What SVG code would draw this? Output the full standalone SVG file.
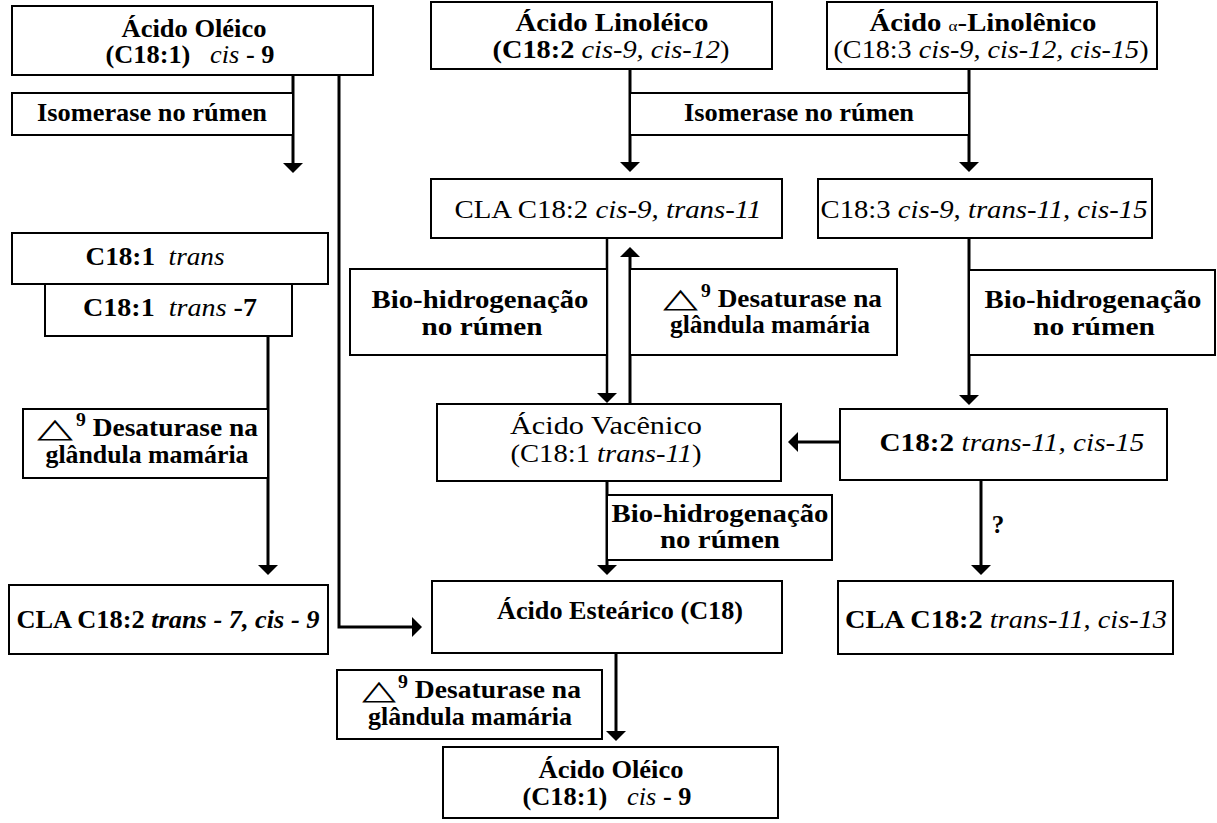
<svg xmlns="http://www.w3.org/2000/svg" width="1217" height="823" viewBox="0 0 1217 823">
<style>
.box{fill:#fff;stroke:#000;stroke-width:2}
.t{font-family:"Liberation Serif","Times New Roman",serif;font-size:25px;font-weight:bold;fill:#000;text-anchor:middle}
.s{text-anchor:start}
.n{font-weight:normal}
.i{font-style:italic;font-weight:normal}
.ib{font-style:italic;font-weight:bold}
.tri{font-family:"DejaVu Sans",sans-serif;font-size:27px;font-weight:normal;fill:#000}
.c{stroke:#000;stroke-width:3;fill:none}
.c2{stroke:#000;stroke-width:2.5;fill:none}
</style>
<defs>
<marker id="ah" markerUnits="userSpaceOnUse" markerWidth="12" markerHeight="20" refX="4" refY="10" orient="auto">
<path d="M0,0 L10,10 L0,20 z" fill="#000"/>
</marker>
</defs>
<rect width="1217" height="823" fill="#fff"/>

<g id="connectors">
<path class="c" d="M293,75 V167" marker-end="url(#ah)"/>
<path class="c" d="M339,75 V627 H416" marker-end="url(#ah)"/>
<path class="c" d="M630,69 V166" marker-end="url(#ah)"/>
<path class="c" d="M969,69 V166" marker-end="url(#ah)"/>
<path class="c2" d="M607,238 V397" marker-end="url(#ah)"/>
<path class="c" d="M630,404 V253" marker-end="url(#ah)"/>
<path class="c" d="M969,238 V399" marker-end="url(#ah)"/>
<path class="c" d="M840,442 H794" marker-end="url(#ah)"/>
<path class="c" d="M268,336 V569" marker-end="url(#ah)"/>
<path class="c" d="M607,481 V569" marker-end="url(#ah)"/>
<path class="c" d="M981,480 V569" marker-end="url(#ah)"/>
<path class="c" d="M616,653 V735" marker-end="url(#ah)"/>
</g>

<g id="oleico-top">
<rect class="box" x="12" y="6" width="361" height="69"/>
<text class="t" x="194" y="37" textLength="145" lengthAdjust="spacingAndGlyphs">Ácido Oléico</text>
<text class="t" x="190" y="63" textLength="169" lengthAdjust="spacingAndGlyphs" xml:space="preserve">(C18:1)   <tspan class="i">cis</tspan> - 9</text>
</g>

<g id="isomerase-left">
<rect class="box" x="12" y="93" width="281" height="42"/>
<text class="t" x="152" y="121" textLength="230" lengthAdjust="spacingAndGlyphs">Isomerase no rúmen</text>
</g>

<g id="linoleico">
<rect class="box" x="431" y="2" width="341" height="67"/>
<text class="t" x="612" y="31" textLength="193" lengthAdjust="spacingAndGlyphs">Ácido Linoléico</text>
<text class="t" x="611" y="58" textLength="237" lengthAdjust="spacingAndGlyphs">(C18:2 <tspan class="i">cis-9, cis-12</tspan><tspan class="n">)</tspan></text>
</g>

<g id="alfa-linolenico">
<rect class="box" x="827" y="2" width="330" height="67"/>
<text class="t" x="983" y="31" textLength="227" lengthAdjust="spacingAndGlyphs">Ácido <tspan class="n" font-size="15">α</tspan><tspan class="n">-</tspan>Linolênico</text>
<text class="t n" x="991" y="58" textLength="315" lengthAdjust="spacingAndGlyphs">(C18:3 <tspan class="i">cis-9, cis-12, cis-15</tspan>)</text>
</g>

<g id="isomerase-mid">
<rect class="box" x="630" y="93" width="339" height="42"/>
<text class="t" x="799" y="121" textLength="230" lengthAdjust="spacingAndGlyphs">Isomerase no rúmen</text>
</g>

<g id="cla-c9t11">
<rect class="box" x="431" y="179" width="351" height="59"/>
<text class="t n" x="608" y="218" textLength="307" lengthAdjust="spacingAndGlyphs">CLA C18:2 <tspan class="i">cis-9, trans-11</tspan></text>
</g>

<g id="c183-c9t11c15">
<rect class="box" x="818" y="179" width="334" height="59"/>
<text class="t n" x="984" y="218" textLength="327" lengthAdjust="spacingAndGlyphs">C18:3 <tspan class="i">cis-9, trans-11, cis-15</tspan></text>
</g>

<g id="c181-trans">
<rect class="box" x="12" y="233" width="316" height="51"/>
<text class="t" x="155" y="265" textLength="139" lengthAdjust="spacingAndGlyphs" xml:space="preserve">C18:1  <tspan class="i">trans</tspan></text>
</g>

<g id="c181-trans7">
<rect class="box" x="45" y="284" width="247" height="52"/>
<text class="t" x="170" y="316" textLength="174" lengthAdjust="spacingAndGlyphs" xml:space="preserve">C18:1  <tspan class="i">trans</tspan> -7</text>
</g>

<g id="bio-left">
<rect class="box" x="350" y="269" width="257" height="86"/>
<text class="t" x="480" y="308" textLength="217" lengthAdjust="spacingAndGlyphs">Bio-hidrogenação</text>
<text class="t" x="482" y="335" textLength="121" lengthAdjust="spacingAndGlyphs">no rúmen</text>
</g>

<g id="desat-mid">
<rect class="box" x="630" y="269" width="267" height="86"/>
<text class="tri" x="663" y="307" textLength="35" lengthAdjust="spacingAndGlyphs">△</text>
<text class="t s" x="701" y="307" textLength="181" lengthAdjust="spacingAndGlyphs"><tspan font-size="18" dy="-10">9</tspan><tspan dy="10"> Desaturase na</tspan></text>
<text class="t" x="770" y="333" textLength="200" lengthAdjust="spacingAndGlyphs">glândula mamária</text>
</g>

<g id="bio-right">
<rect class="box" x="969" y="270" width="246" height="85"/>
<text class="t" x="1093" y="308" textLength="217" lengthAdjust="spacingAndGlyphs">Bio-hidrogenação</text>
<text class="t" x="1094" y="335" textLength="122" lengthAdjust="spacingAndGlyphs">no rúmen</text>
</g>

<g id="desat-left">
<rect class="box" x="23" y="409" width="245" height="69"/>
<text class="tri" x="37" y="437" textLength="36" lengthAdjust="spacingAndGlyphs">△</text>
<text class="t s" x="76" y="436" textLength="182" lengthAdjust="spacingAndGlyphs"><tspan font-size="18" dy="-10">9</tspan><tspan dy="10"> Desaturase na</tspan></text>
<text class="t" x="147" y="463" textLength="203" lengthAdjust="spacingAndGlyphs">glândula mamária</text>
</g>

<g id="vacenico">
<rect class="box" x="437" y="404" width="344" height="77"/>
<text class="t n" x="606" y="434" textLength="192" lengthAdjust="spacingAndGlyphs">Ácido Vacênico</text>
<text class="t n" x="606" y="462" textLength="191" lengthAdjust="spacingAndGlyphs">(C18:1 <tspan class="i">trans-11</tspan>)</text>
</g>

<g id="c182-t11c15">
<rect class="box" x="840" y="409" width="327" height="71"/>
<text class="t" x="1012" y="451" textLength="265" lengthAdjust="spacingAndGlyphs">C18:2  <tspan class="i">trans-11, cis-15</tspan></text>
</g>

<g id="bio-bottom">
<rect class="box" x="607" y="495" width="225" height="65"/>
<text class="t" x="720" y="522" textLength="217" lengthAdjust="spacingAndGlyphs">Bio-hidrogenação</text>
<text class="t" x="720" y="548" textLength="120" lengthAdjust="spacingAndGlyphs">no rúmen</text>
</g>

<g id="question">
<text class="t" x="998" y="533" font-size="20">?</text>
</g>

<g id="cla-t7c9">
<rect class="box" x="9" y="585" width="319" height="69"/>
<text class="t" x="168" y="628" textLength="303" lengthAdjust="spacingAndGlyphs">CLA C18:2 <tspan class="ib">trans - 7, cis - 9</tspan></text>
</g>

<g id="estearico">
<rect class="box" x="432" y="581" width="350" height="72"/>
<text class="t" x="620" y="619" textLength="246" lengthAdjust="spacingAndGlyphs">Ácido Esteárico (C18)</text>
</g>

<g id="cla-t11c13">
<rect class="box" x="838" y="581" width="335" height="73"/>
<text class="t" x="1006" y="628" textLength="322" lengthAdjust="spacingAndGlyphs">CLA C18:2 <tspan class="i">trans-11, cis-13</tspan></text>
</g>

<g id="desat-bottom">
<rect class="box" x="337" y="670" width="265" height="69"/>
<text class="tri" x="362" y="699" textLength="34" lengthAdjust="spacingAndGlyphs">△</text>
<text class="t s" x="398" y="698" textLength="183" lengthAdjust="spacingAndGlyphs"><tspan font-size="18" dy="-10">9</tspan><tspan dy="10"> Desaturase na</tspan></text>
<text class="t" x="470" y="725" textLength="204" lengthAdjust="spacingAndGlyphs">glândula mamária</text>
</g>

<g id="oleico-bottom">
<rect class="box" x="443" y="747" width="335" height="71"/>
<text class="t" x="611" y="778" textLength="145" lengthAdjust="spacingAndGlyphs">Ácido Oléico</text>
<text class="t" x="607" y="805" textLength="169" lengthAdjust="spacingAndGlyphs" xml:space="preserve">(C18:1)   <tspan class="i">cis</tspan> - 9</text>
</g>
</svg>
